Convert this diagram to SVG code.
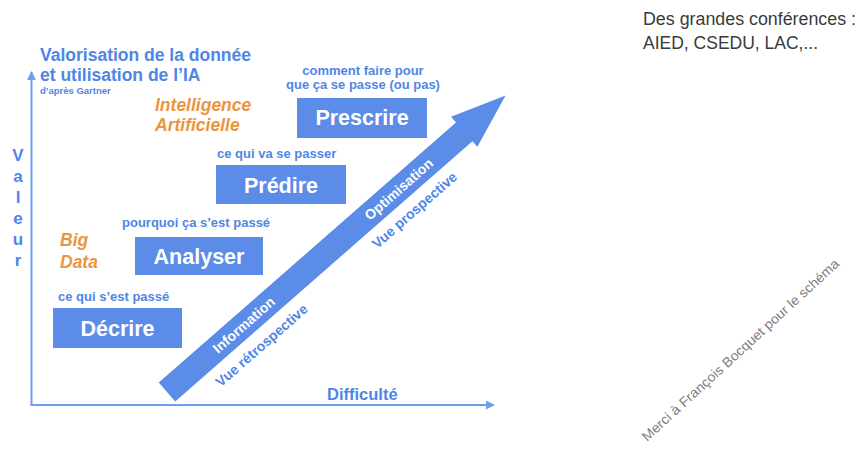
<svg xmlns="http://www.w3.org/2000/svg" width="861" height="451" viewBox="0 0 861 451">
<defs>
<style>
.bg{fill:#ffffff}
.box{fill:#5b8de8}
.lbl{font-family:"Liberation Sans",Arial,sans-serif;font-weight:bold;font-size:21.5px;fill:#ffffff;text-anchor:middle}
.cap{font-family:"Liberation Sans",Arial,sans-serif;font-weight:bold;font-size:13px;fill:#4f86e6}
.blue{font-family:"Liberation Sans",Arial,sans-serif;font-weight:bold;fill:#4f86e6}
.orange{font-family:"Liberation Sans",Arial,sans-serif;font-weight:bold;font-style:italic;font-size:17.5px;fill:#ea9540}
.axis{stroke:#6d9eeb;stroke-width:2;fill:none}
.band{font-family:"Liberation Sans",Arial,sans-serif;font-weight:bold;font-size:14px;text-anchor:middle}
.note{font-family:"Liberation Sans",Arial,sans-serif;fill:#3a3a3a;font-size:17.5px}
</style>
<marker id="ah" viewBox="0 0 10 10" refX="9" refY="5" markerWidth="4.5" markerHeight="4.5" orient="auto" markerUnits="strokeWidth">
<path d="M0,0 L10,5 L0,10 z" fill="#6d9eeb"/>
</marker>
</defs>
<rect class="bg" x="0" y="0" width="861" height="451"/>

<g id="connectors">
<path class="axis" d="M31.5,405 L31.5,72" marker-end="url(#ah)"/>
<path class="axis" d="M30.5,405 L494,405" marker-end="url(#ah)"/>
</g>

<g id="title">
<text class="blue" x="40" y="61" font-size="17.5">Valorisation de la donnée</text>
<text class="blue" x="40" y="81" font-size="17.5">et utilisation de l’IA</text>
<text class="blue" x="40" y="94" font-size="9.5">d’après Gartner</text>
</g>

<g id="axis-labels">
<text class="blue" font-size="17" text-anchor="middle" x="18" y="161">V</text>
<text class="blue" font-size="17" text-anchor="middle" x="18" y="182">a</text>
<text class="blue" font-size="17" text-anchor="middle" x="18" y="203">l</text>
<text class="blue" font-size="17" text-anchor="middle" x="18" y="224">e</text>
<text class="blue" font-size="17" text-anchor="middle" x="18" y="245">u</text>
<text class="blue" font-size="17" text-anchor="middle" x="18" y="266">r</text>
<text class="blue" font-size="16.5" x="327" y="400">Difficulté</text>
</g>

<g id="categories">
<text class="orange" x="155" y="111">Intelligence</text>
<text class="orange" x="155" y="131">Artificielle</text>
<text class="orange" x="60" y="246">Big</text>
<text class="orange" x="60" y="268">Data</text>
</g>

<g id="node-decrire">
<text class="cap" x="58" y="301">ce qui s’est passé</text>
<rect class="box" x="53" y="308" width="129" height="40"/>
<text class="lbl" x="117.5" y="336">Décrire</text>
</g>

<g id="node-analyser">
<text class="cap" x="122" y="227">pourquoi ça s’est passé</text>
<rect class="box" x="135" y="237" width="128" height="38"/>
<text class="lbl" x="199" y="264">Analyser</text>
</g>

<g id="node-predire">
<text class="cap" x="217" y="158">ce qui va se passer</text>
<rect class="box" x="216" y="165" width="130" height="39"/>
<text class="lbl" x="281" y="193">Prédire</text>
</g>

<g id="node-prescrire">
<text class="cap" x="363" y="75" text-anchor="middle">comment faire pour</text>
<text class="cap" x="363" y="89" text-anchor="middle">que ça se passe (ou pas)</text>
<rect class="box" x="297" y="98" width="130" height="40"/>
<text class="lbl" x="362" y="125">Prescrire</text>
</g>

<g id="big-arrow" transform="translate(167,392) rotate(-41.2)">
<polygon class="box" points="0,-12.5 395,-12.5 395,-20 450,0 395,20 395,12.5 0,12.5"/>
<text class="band" x="102" y="5" fill="#ffffff">Information</text>
<text class="band" x="102" y="32" font-size="13" fill="#4f86e6">Vue rétrospective</text>
<text class="band" x="308" y="5" fill="#ffffff">Optimisation</text>
<text class="band" x="306" y="31" font-size="13" fill="#4f86e6">Vue prospective</text>
</g>

<g id="notes">
<text class="note" x="643" y="25" textLength="213" lengthAdjust="spacingAndGlyphs">Des grandes conférences :</text>
<text class="note" x="643" y="49">AIED, CSEDU, LAC,...</text>
<text x="647" y="442" transform="rotate(-42.5 647 442)" font-family="Liberation Sans, Arial, sans-serif" font-size="13.5" fill="#808080" textLength="262" lengthAdjust="spacingAndGlyphs">Merci à François Bocquet pour le schéma</text>
</g>
</svg>
